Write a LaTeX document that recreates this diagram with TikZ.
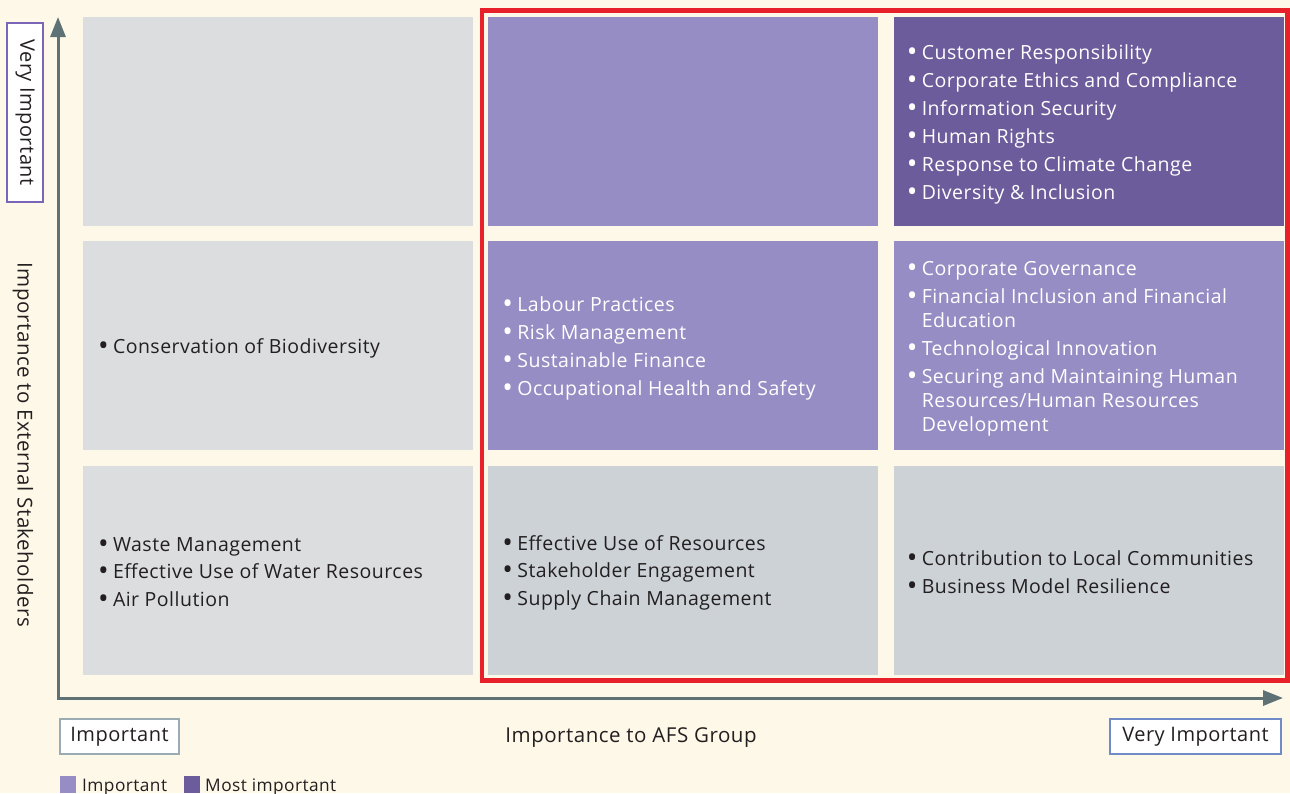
\documentclass[tikz,border=0pt]{standalone}
\usepackage{fontspec}
\setmainfont[LetterSpace=2.5]{Open Sans}
\usetikzlibrary{arrows.meta, positioning}
\definecolor{cCream}{RGB}{254,248,232}
\definecolor{cGrayCell}{RGB}{220,221,223}
\definecolor{cBlueGray}{RGB}{204,210,214}
\definecolor{cLight}{RGB}{150,141,196}
\definecolor{cDark}{RGB}{108,92,155}
\definecolor{cAxis}{RGB}{94,113,117}
\definecolor{cFrame}{RGB}{232,32,42}
\definecolor{cInk}{RGB}{35,31,32}
\definecolor{cTagGray}{RGB}{154,171,179}
\definecolor{cTagBlue}{RGB}{111,139,200}
\definecolor{cTagPurple}{RGB}{123,101,184}
\tikzset{
	cell/.style   ={rectangle, minimum width=390pt, minimum height=209pt, inner sep=0pt, draw=none},
	items/.style  ={anchor=west, align=left, inner sep=0pt, yshift=-2.5pt, font=\fontsize{19.5}{24}\selectfont},
	axis/.style   ={line width=3pt, cAxis, {Triangle[length=20pt,width=15pt]}-{Triangle[length=20pt,width=15pt]}},
	axlab/.style  ={text=cInk, font=\fontsize{20.5}{24}\selectfont},
	tag/.style    ={rectangle, fill=white, line width=2pt, inner sep=0pt, font=\fontsize{20}{24}\selectfont, text=cInk},
	legsq/.style  ={rectangle, minimum width=16pt, minimum height=17pt, inner sep=0pt},
	legtxt/.style ={anchor=base west, inner sep=0pt, font=\fontsize{17.3}{20}\selectfont, text=cInk},
}
\newcommand{\itm}[1]{\makebox[15pt][l]{\raisebox{-0.12em}{\scalebox{1.45}{\textbullet}}}#1}
\newcommand{\cont}[1]{\hspace*{15pt}#1}

\begin{document}
\begin{tikzpicture}[x=1pt, y=-1pt]
	\fill[cCream] (0,0) rectangle (1290,793);
	\useasboundingbox (0,0) rectangle (1290,793);
	% grid of cells, top row first
	\node[cell, fill=cGrayCell] (c11) at (278,121.5) {};
	\node[cell, fill=cLight, right=15pt of c11] (c12) {};
	\node[cell, fill=cDark, right=15pt of c12] (c13) {};
	\node[cell, fill=cGrayCell, below=15pt of c11] (c21) {};
	\node[cell, fill=cLight, right=15pt of c21] (c22) {};
	\node[cell, fill=cLight, right=15pt of c22] (c23) {};
	\node[cell, fill=cGrayCell, below=15pt of c21] (c31) {};
	\node[cell, fill=cBlueGray, right=15pt of c31] (c32) {};
	\node[cell, fill=cBlueGray, right=15pt of c32] (c33) {};
	% red frame round the two right columns
	\draw[cFrame, line width=4.5pt] (482,10.5) rectangle (1287.5,680.5);
	% issue lists
	\node[items, text=white] (t13) at ([xshift=13pt]c13.west) {%
		\itm{Customer Responsibility}\\[4pt]
		\itm{Corporate Ethics and Compliance}\\[4pt]
		\itm{Information Security}\\[4pt]
		\itm{Human Rights}\\[4pt]
		\itm{Response to Climate Change}\\[4pt]
		\itm{Diversity \& Inclusion}};
	\node[items, text=cInk] (t21) at ([xshift=15pt]c21.west) {%
		\itm{Conservation of Biodiversity}};
	\node[items, text=white] (t22) at ([xshift=14pt]c22.west) {%
		\itm{Labour Practices}\\[4pt]
		\itm{Risk Management}\\[4pt]
		\itm{Sustainable Finance}\\[4pt]
		\itm{Occupational Health and Safety}};
	\node[items, text=white] (t23) at ([xshift=13pt]c23.west) {%
		\itm{Corporate Governance}\\[4pt]
		\itm{Financial Inclusion and Financial}\\
		\cont{Education}\\[4pt]
		\itm{Technological Innovation}\\[4pt]
		\itm{Securing and Maintaining Human}\\
		\cont{Resources/Human Resources}\\
		\cont{Development}};
	\node[items, text=cInk] (t31) at ([xshift=15pt]c31.west) {%
		\itm{Waste Management}\\[3pt]
		\itm{Effective Use of Water Resources}\\[4pt]
		\itm{Air Pollution}};
	\node[items, text=cInk] (t32) at ([xshift=14pt]c32.west) {%
		\itm{Effective Use of Resources}\\[3pt]
		\itm{Stakeholder Engagement}\\[4pt]
		\itm{Supply Chain Management}};
	\node[items, text=cInk] (t33) at ([xshift=13pt]c33.west) {%
		\itm{Contribution to Local Communities}\\[4pt]
		\itm{Business Model Resilience}};
	% axes
	\coordinate (origin) at (58,698);
	\coordinate (ytip) at (58,17);
	\coordinate (xtip) at (1283,698);
	\draw[axis, line join=miter] (ytip) -- (origin) -- (xtip);
	% axis labels
	\node[tag, draw=cTagPurple, rotate=-90, minimum width=179pt, minimum height=36pt] (yhigh) at (25,112.5) {Very Important};
	\node[axlab, rotate=-90] (ylab) at (23,445) {Importance to External Stakeholders};
	\node[tag, draw=cTagGray, minimum width=119pt, minimum height=35pt] (xlow) at (119.5,736.5) {Important};
	\node[tag, draw=cTagBlue, minimum width=171pt, minimum height=35pt] (xhigh) at (1195.5,736.5) {Very Important};
	\node[axlab] (xlab) at (631,738) {Importance to AFS Group};
	% legend
	\node[legsq, fill=cLight] (legA) at (68,784.5) {};
	\node[legtxt] (legAt) at (82,791) {Important};
	\node[legsq, fill=cDark] (legB) at (191.5,784.5) {};
	\node[legtxt] (legBt) at (205,791) {Most important};
\end{tikzpicture}
\end{document}
